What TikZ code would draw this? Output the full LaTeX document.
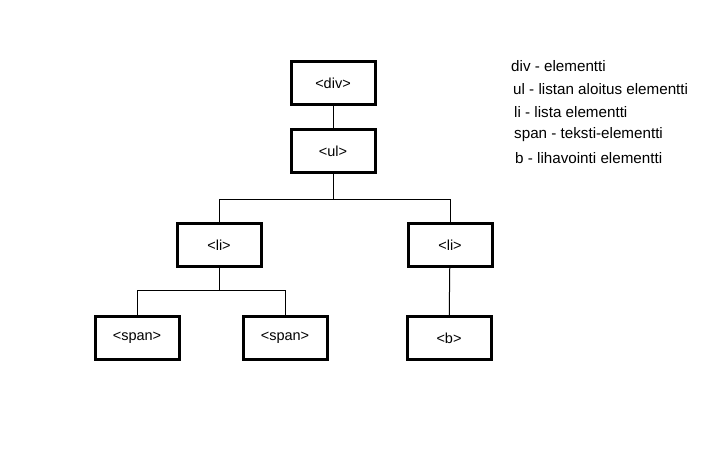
\documentclass[tikz,border=0pt]{standalone}
\usepackage{fontspec}
\setmainfont{Liberation Sans}
\begin{document}
\begin{tikzpicture}[x=1pt, y=-1pt,
        elem/.style={draw, line width=3pt, minimum width=84pt, minimum height=43pt,
                     inner sep=0pt, font=\fontsize{14.5}{17}\selectfont},
        selite/.style={anchor=west, inner sep=0pt, font=\fontsize{15.2}{18}\selectfont},
        yhteys/.style={line width=1pt}]
        % 1. KEHYS (kuvan koko)
        \useasboundingbox (0,0) rectangle (722,456);

        % 2. SOLMUT (puun elementit)
        \node[elem] (div)   at (333, 83)  {<div>};
        \node[elem] (ul)    at (333, 151) {<ul>};
        \node[elem] (lia)   at (219, 245) {<li>};
        \node[elem] (lib)   at (450, 245) {<li>};
        \node[elem] (spana) at (137, 338) {<span>};
        \node[elem] (spanb) at (285, 338) {<span>};
        \node[elem] (b)     at (449, 338) {<b>};

        % 3. YHTEYDET
        \draw[yhteys] (div) -- (ul);
        \draw[yhteys] (ul.south) -- ++(0,25) -| (lia.north);
        \draw[yhteys] (ul.south) -- ++(0,25) -| (lib.north);
        \draw[yhteys] (lia.south) -- ++(0,22) -| (spana.north);
        \draw[yhteys] (lia.south) -- ++(0,22) -| (spanb.north);
        \draw[yhteys] (lib) -- (b);

        % 4. SELITTEET
        \node[selite] (sdiv)  at (511, 66)  {div - elementti};
        \node[selite] (sul)   at (513, 89)  {ul - listan aloitus elementti};
        \node[selite] (sli)   at (514, 112) {li - lista elementti};
        \node[selite] (sspan) at (514, 135) {span - teksti-elementti};
        \node[selite] (sb)    at (515, 158) {b - lihavointi elementti};
\end{tikzpicture}
\end{document}
